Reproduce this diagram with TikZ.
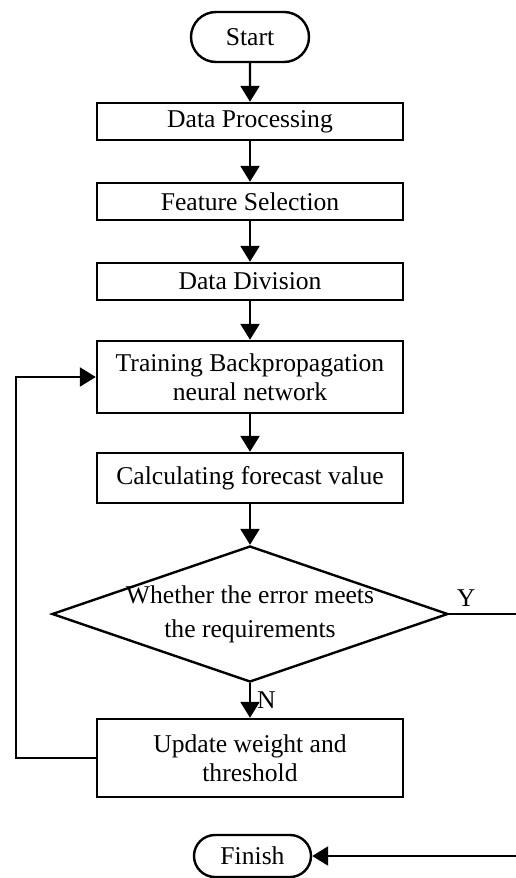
\documentclass[tikz,border=0pt]{standalone}
\usepackage{fontspec}
\setmainfont{Liberation Serif}
\usetikzlibrary{shapes.geometric,shapes.misc}
\usetikzlibrary{arrows.meta}

\begin{document}
\begin{tikzpicture}
  [x=0.5pt,y=-0.5pt,font=\fontsize{12.8}{14.5}\selectfont,
  line/.style={black,line width=1.2pt},
  arr/.style={line,-{Triangle[length=8pt,width=9.5pt]}},
  term/.style={rounded rectangle,draw=black,line width=1.2pt,minimum width=63pt,inner sep=2pt},
  proc/.style={rectangle,draw=black,line width=1.2pt,minimum width=153pt,align=center,inner sep=2pt},
  decide/.style={diamond,draw=black,line width=1.2pt,minimum width=198pt,minimum height=68pt,aspect=2.9,inner sep=-2.5pt,align=center}]
  \useasboundingbox (0,0) rectangle (515,878);

  \node[term,minimum height=25pt] (start) at (250,37) {Start};
  \node[proc,minimum height=18.5pt] (dproc) at (250,121.5) {Data Processing};
  \node[proc,minimum height=18.5pt] (fsel) at (250,201.5) {Feature Selection};
  \node[proc,minimum height=18.5pt] (ddiv) at (250,281.5) {Data Division};
  \node[proc,minimum height=36pt] (train) at (250,377) {Training Backpropagation\\neural network};
  \node[proc,minimum height=25pt] (fcast) at (250,478) {Calculating forecast value};
  \node[decide] (check) at (250,614) {Whether the error meets\\[2.5pt]the requirements};
  \node[proc,minimum height=39pt] (update) at (250,758) {Update weight and\\threshold};
  \node[term,minimum height=21pt,minimum width=62.5pt] (finish) at (252.5,856) {Finish};

  \coordinate (ltop) at (16,377);
  \coordinate (lbot) at (16,758);
  \coordinate (rtop) at (517,614);
  \coordinate (rbot) at (517,856);

  \draw [arr] (start) -- (dproc);
  \draw [arr] (dproc) -- (fsel);
  \draw [arr] (fsel) -- (ddiv);
  \draw [arr] (ddiv) -- (train);
  \draw [arr] (train) -- (fcast);
  \draw [arr] (fcast) -- (check);
  \draw [arr] (check) -- node [right,inner sep=3pt,pos=0.5] {N} (update);
  \draw [arr] (update.west) -- (lbot) -- (ltop) -- (train.west);
  \draw [arr] (check.east) -- node [above,pos=0.25,inner sep=3pt] {Y} (rtop) -- (rbot) -- (finish.east);
\end{tikzpicture}
\end{document}
